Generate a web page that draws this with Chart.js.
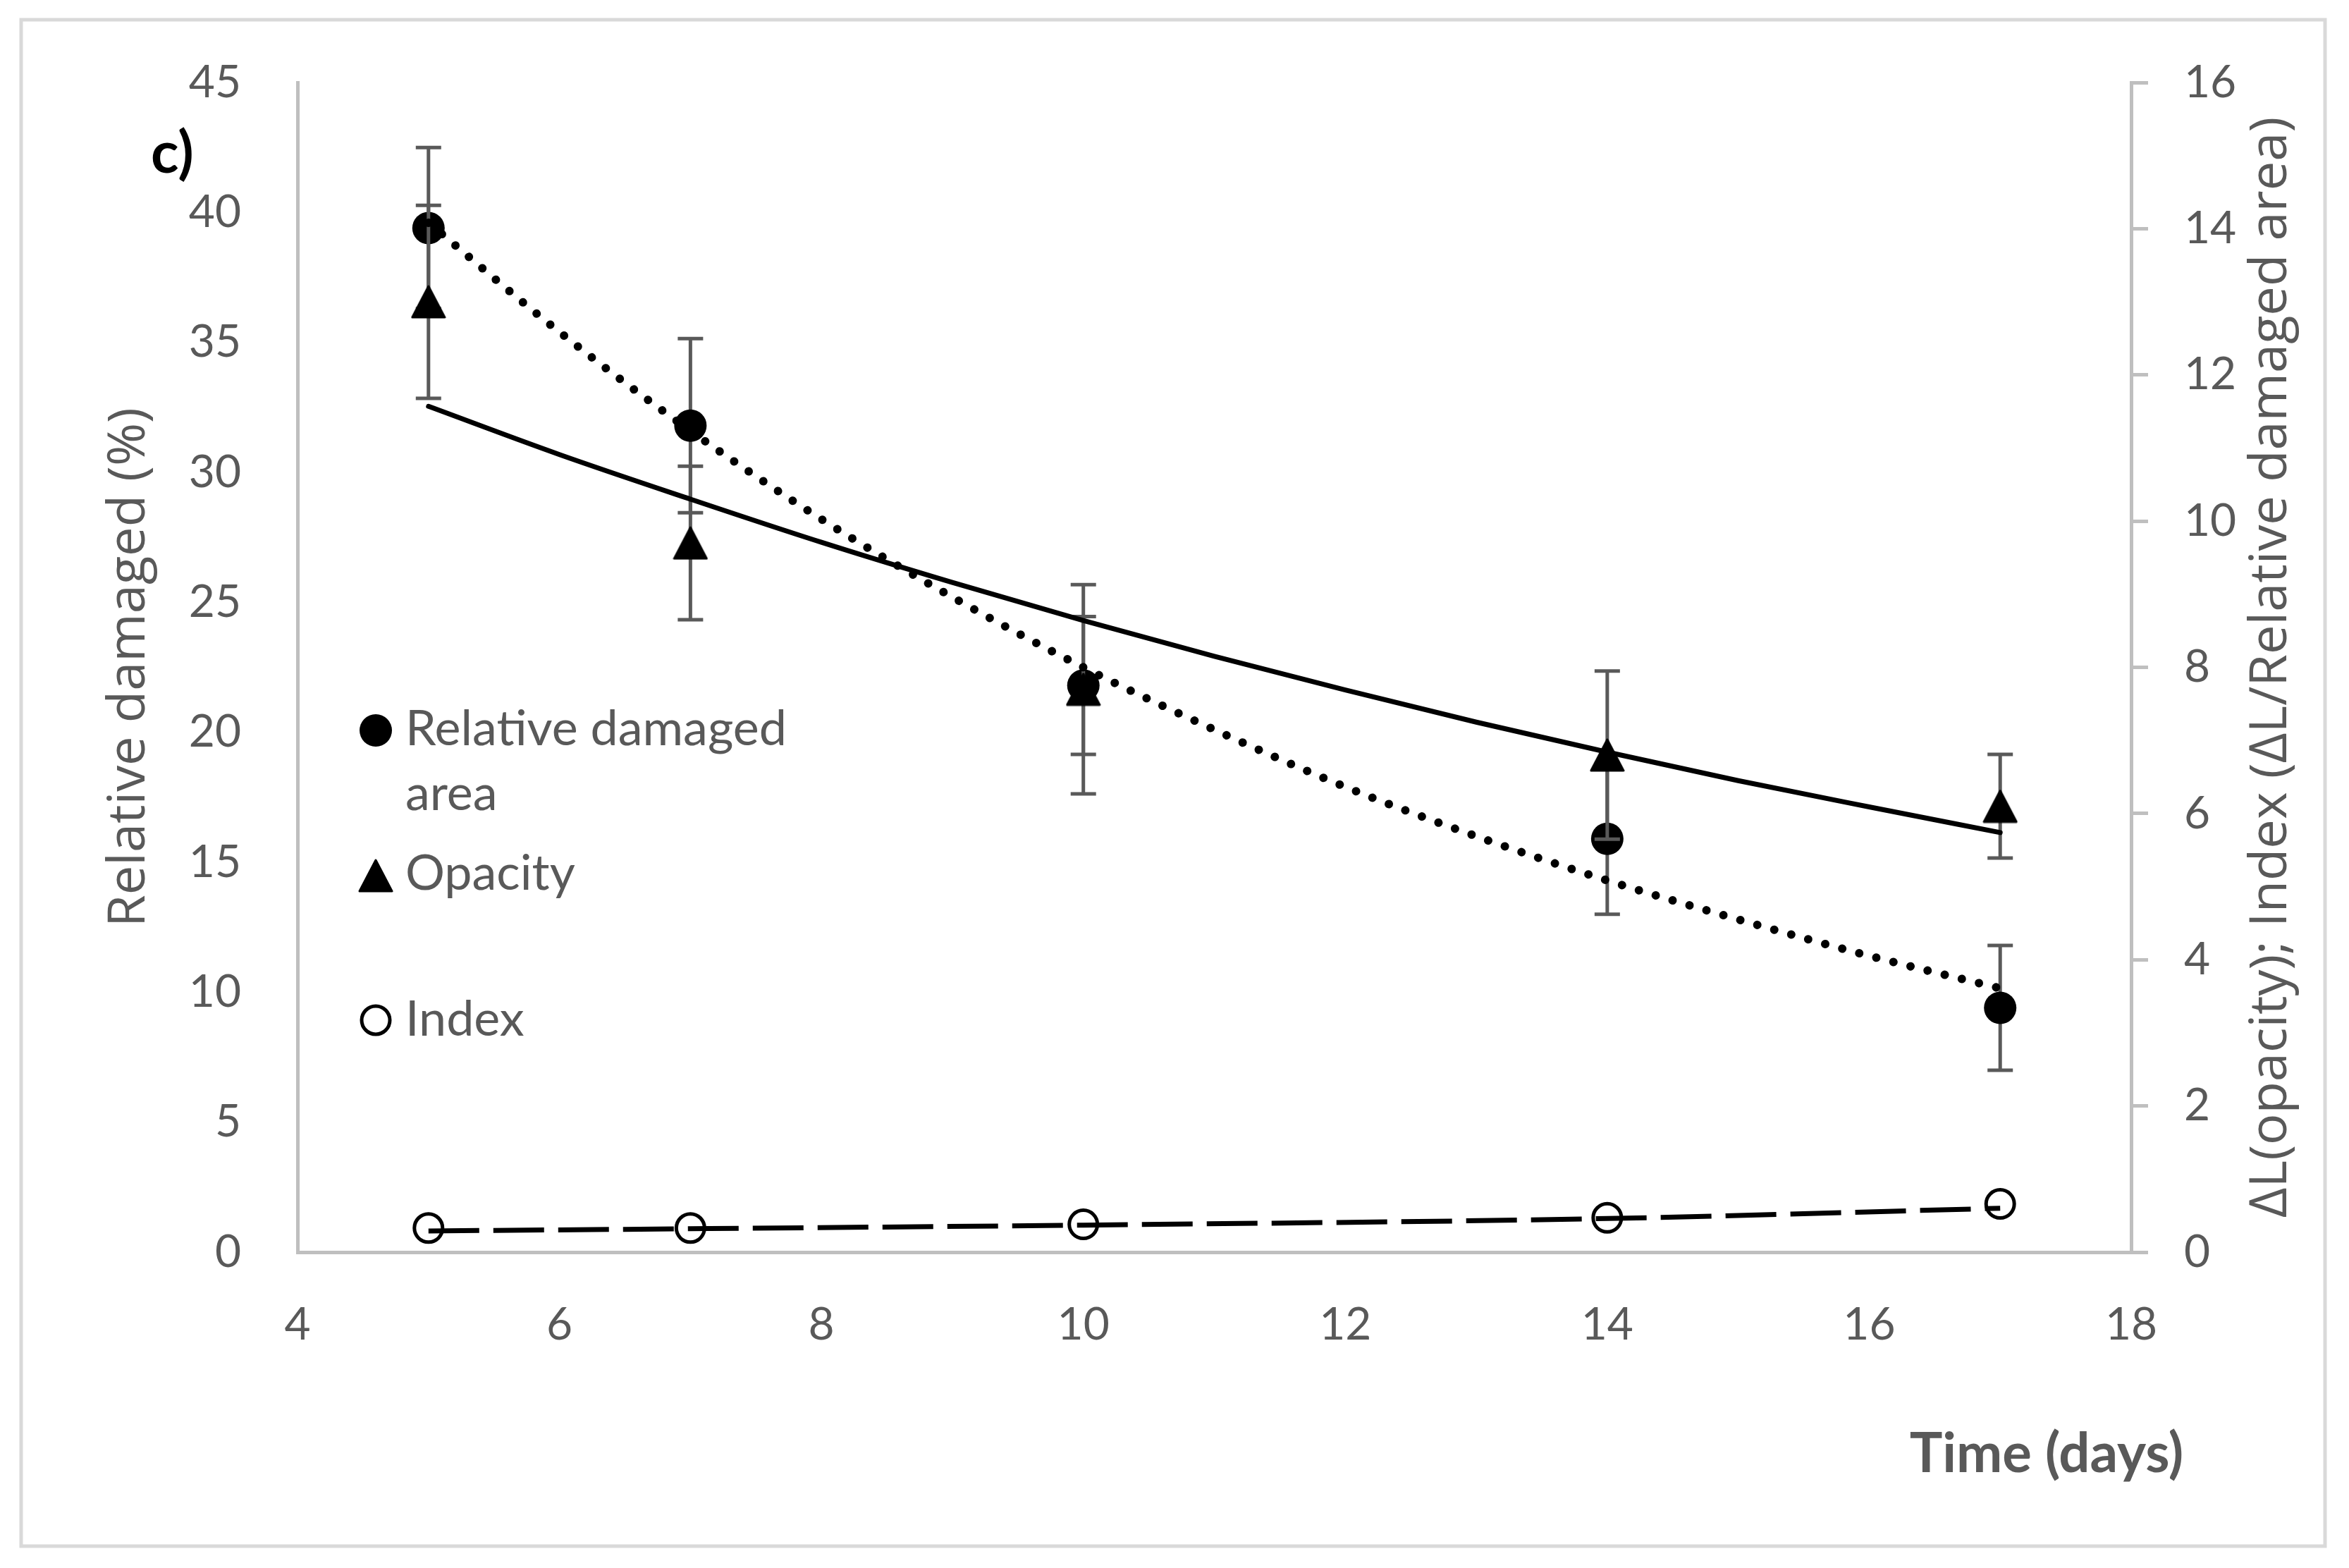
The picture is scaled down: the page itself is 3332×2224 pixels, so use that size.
<!DOCTYPE html>
<html>
<head>
<meta charset="utf-8">
<script src="https://cdn.jsdelivr.net/npm/chart.js@4.4.1/dist/chart.umd.min.js"></script>
<style>
  html, body { margin: 0; padding: 0; background: #ffffff; }
  #wrap { width: 3332px; height: 2224px; }
</style>
</head>
<body>
<div id="wrap"><canvas id="chart" width="3332" height="2224"></canvas></div>
<script>
// values
var days = [5, 7, 10, 14, 17];
var damagedArea = [39.4, 31.8, 21.8, 15.9, 9.4];      // left axis (%)
var damagedAreaErr = [3.1, 3.35, 2.65, 2.9, 2.4];
var opacity = [13.0, 9.7, 7.7, 6.8, 6.1];             // right axis
var opacityErr = [1.32, 1.05, 1.43, 1.15, 0.71];
var indexVals = [0.33, 0.33, 0.38, 0.47, 0.66];        // right axis

// trend lines
var trendDays = [5, 6, 7, 8, 9, 10, 11, 12, 13, 14, 15, 16, 17];
var areaTrend = [39.6, 35.4, 31.6, 28.2, 25.2, 22.5, 20.1, 17.9, 16.0, 14.3, 12.8, 11.4, 10.15];
var opacityTrend = [11.57, 10.91, 10.30, 9.71, 9.16, 8.64, 8.15, 7.69, 7.25, 6.84, 6.45, 6.09, 5.74];
var indexTrendDays = [5, 7, 10, 14, 17];
var indexTrend = [0.29, 0.32, 0.37, 0.46, 0.60];

var xTicks = [4, 6, 8, 10, 12, 14, 16, 18];
var leftTicks = [0, 5, 10, 15, 20, 25, 30, 35, 40, 45];
var rightTicks = [0, 2, 4, 6, 8, 10, 12, 14, 16];

var legendLabels = [['Relative damaged', 'area'], ['Opacity'], ['Index']];

var grey = '#595959';
var axisGrey = '#bfbfbf';

function toXY(xs, ys) {
	return xs.map(function(x, i) { return {x: x, y: ys[i]}; });
}

// triangle marker as a small canvas so it sits centred like the original
var tri = document.createElement('canvas');
tri.width = 50; tri.height = 48;
(function() {
	var c = tri.getContext('2d');
	c.fillStyle = '#000'; c.strokeStyle = '#000';
	c.lineWidth = 3; c.lineJoin = 'round';
	c.beginPath();
	c.moveTo(25, 2); c.lineTo(48, 46); c.lineTo(2, 46); c.closePath();
	c.fill(); c.stroke();
})();

var errorBars = {
	id: 'errorBars',
	beforeDatasetDraw: function(chart, args) {
		var ds = chart.data.datasets[args.index];
		if (!ds.errors) return;
		var ctx = chart.ctx;
		var xs = chart.scales.x;
		var ys = chart.scales[ds.yAxisID];
		ctx.save();
		ctx.strokeStyle = grey;
		ctx.lineWidth = 5;
		ds.data.forEach(function(p, i) {
			var px = xs.getPixelForValue(p.x);
			var top = ys.getPixelForValue(p.y + ds.errors[i]);
			var bot = ys.getPixelForValue(p.y - ds.errors[i]);
			ctx.beginPath();
			ctx.moveTo(px, top); ctx.lineTo(px, bot);
			ctx.moveTo(px - 18, top); ctx.lineTo(px + 18, top);
			ctx.moveTo(px - 18, bot); ctx.lineTo(px + 18, bot);
			ctx.stroke();
		});
		ctx.restore();
	}
};

var decorations = {
	id: 'decorations',
	beforeDraw: function(chart) {
		var ctx = chart.ctx;
		ctx.save();
		ctx.fillStyle = '#ffffff';
		ctx.fillRect(0, 0, chart.width, chart.height);
		ctx.strokeStyle = '#d9d9d9';
		ctx.lineWidth = 5;
		ctx.strokeRect(30, 28, 3268, 2165);
		ctx.restore();
	},
	afterDraw: function(chart) {
		var ctx = chart.ctx;
		var area = chart.chartArea;
		var midY = (area.top + area.bottom) / 2;
		ctx.save();

		// axis titles
		ctx.fillStyle = grey;
		ctx.font = '74px "Open Sans"';
		ctx.textAlign = 'center';
		ctx.textBaseline = 'alphabetic';
		ctx.save();
		ctx.translate(205, midY);
		ctx.rotate(-Math.PI / 2);
		ctx.fillText('Relative damaged (%)', 0, 0);
		ctx.restore();
		ctx.save();
		ctx.translate(3243, midY);
		ctx.rotate(-Math.PI / 2);
		ctx.fillText('\u0394L(opacity); Index (\u0394L/Relative damaged area)', 0, 0);
		ctx.restore();

		ctx.font = 'bold 78px Lato';
		ctx.fillText('Time (days)', 2903, 2088);

		ctx.fillStyle = '#000';
		ctx.textAlign = 'left';
		ctx.font = 'bold 82px Lato';
		ctx.fillText('c)', 214, 245);

		// legend
		var lx = 533;
		ctx.fillStyle = '#000';
		Chart.helpers.drawPoint(ctx, {pointStyle: 'circle', radius: 23, borderWidth: 0, rotation: 0}, lx, 1036);
		ctx.drawImage(tri, lx - tri.width / 2, 1242 - tri.height / 2);
		ctx.fillStyle = '#fff';
		ctx.strokeStyle = '#000';
		ctx.lineWidth = 5;
		Chart.helpers.drawPoint(ctx, {pointStyle: 'circle', radius: 20, borderWidth: 5, rotation: 0}, lx, 1447);

		ctx.fillStyle = grey;
		ctx.font = '70px Lato';
		ctx.fillText(legendLabels[0][0], 575, 1057);
		ctx.fillText(legendLabels[0][1], 575, 1149);
		ctx.fillText(legendLabels[1][0], 575, 1262);
		ctx.fillText(legendLabels[2][0], 575, 1469);
		ctx.restore();
	}
};

var tickFont = {family: 'Lato', size: 64};

var chart = new Chart(document.getElementById('chart').getContext('2d'), {
	type: 'scatter',
	data: {
		datasets: [
			{
				label: 'Relative damaged area trend',
				data: toXY(trendDays, areaTrend),
				yAxisID: 'y',
				showLine: true,
				borderColor: '#000',
				borderWidth: 12,
				borderDash: [0.01, 25],
				borderCapStyle: 'round',
				cubicInterpolationMode: 'monotone',
				pointRadius: 0,
				order: 0
			},
			{
				label: 'Opacity trend',
				data: toXY(trendDays, opacityTrend),
				yAxisID: 'y1',
				showLine: true,
				borderColor: '#000',
				borderWidth: 7,
				borderCapStyle: 'round',
				cubicInterpolationMode: 'monotone',
				pointRadius: 0,
				order: 0
			},
			{
				label: 'Index trend',
				data: toXY(indexTrendDays, indexTrend),
				yAxisID: 'y1',
				showLine: true,
				borderColor: '#000',
				borderWidth: 7,
				borderDash: [72, 20],
				cubicInterpolationMode: 'monotone',
				pointRadius: 0,
				order: 0
			},
			{
				label: 'Index',
				data: toXY(days, indexVals),
				yAxisID: 'y1',
				pointStyle: 'circle',
				pointRadius: 20,
				pointBorderWidth: 5,
				pointBorderColor: '#000',
				pointBackgroundColor: '#fff',
				order: 1
			},
			{
				label: 'Opacity',
				data: toXY(days, opacity),
				errors: opacityErr,
				yAxisID: 'y1',
				pointStyle: tri,
				pointRadius: 24,
				order: 2
			},
			{
				label: 'Relative damaged area',
				data: toXY(days, damagedArea),
				errors: damagedAreaErr,
				yAxisID: 'y',
				pointStyle: 'circle',
				pointRadius: 23,
				pointBorderWidth: 0,
				pointBackgroundColor: '#000',
				order: 3
			}
		]
	},
	options: {
		responsive: false,
		devicePixelRatio: 1,
		animation: false,
		layout: { padding: { top: 117, left: 0, right: 0, bottom: 0 } },
		plugins: { legend: { display: false }, tooltip: { enabled: false } },
		scales: {
			x: {
				type: 'linear',
				min: 4, max: 18,
				afterBuildTicks: function(s) { s.ticks = xTicks.map(function(v) { return {value: v}; }); },
				afterFit: function(s) { s.height = 448; },
				grid: { display: false },
				border: { display: true, color: axisGrey, width: 5 },
				ticks: { font: tickFont, color: grey, padding: 57 }
			},
			y: {
				position: 'left',
				min: 0, max: 45,
				afterBuildTicks: function(s) { s.ticks = leftTicks.map(function(v) { return {value: v}; }); },
				afterFit: function(s) { s.width = 422; },
				grid: { display: false },
				border: { display: true, color: axisGrey, width: 5 },
				ticks: { font: tickFont, color: grey, padding: 72 }
			},
			y1: {
				position: 'right',
				min: 0, max: 16,
				afterBuildTicks: function(s) { s.ticks = rightTicks.map(function(v) { return {value: v}; }); },
				afterFit: function(s) { s.width = 309; },
				grid: { display: true, drawOnChartArea: false, drawTicks: true, tickLength: 24, color: axisGrey, lineWidth: 5 },
				border: { display: true, color: axisGrey, width: 5 },
				ticks: { font: tickFont, color: grey, padding: 51 }
			}
		}
	},
	plugins: [errorBars, decorations]
});
</script>
</body>
</html>
